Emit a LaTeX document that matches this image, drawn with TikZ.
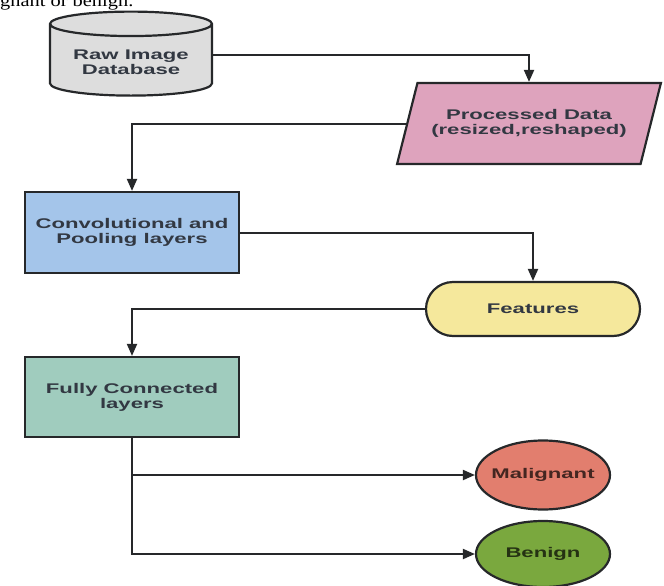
\documentclass[tikz,border=0pt]{standalone}
\usepackage{fontspec}
\setmainfont{Liberation Sans}[FakeStretch=1.58]
\newfontfamily\paperfont{Liberation Serif}[FakeStretch=1.2]
\usepackage{xcolor}
\usetikzlibrary{
    arrows.meta,
    shapes.geometric,
    positioning
}
\definecolor{rawgray}{RGB}{221,221,221}
\definecolor{procpink}{RGB}{222,163,189}
\definecolor{convblue}{RGB}{164,197,234}
\definecolor{featyellow}{RGB}{245,232,156}
\definecolor{fcteal}{RGB}{160,204,190}
\definecolor{malred}{RGB}{226,126,110}
\definecolor{bengreen}{RGB}{122,168,62}
\definecolor{linedark}{RGB}{38,40,42}
\definecolor{textdark}{RGB}{50,56,66}

\begin{document}
\begin{tikzpicture}[x=1pt, y=-1pt,
    box/.style={draw=linedark, line width=2.2pt, text=textdark, align=center,
        font=\bfseries\fontsize{14}{15}\selectfont},
    flow/.style={draw=linedark, line width=2pt, -{Triangle[length=12pt, width=10pt]}}]
                        \clip (0, 0) rectangle (664, 586);
                        \node[anchor=base west, inner sep=0pt, font=\paperfont\fontsize{17}{17}\selectfont] (ntop) at (0, 7) {gnant or benign.};

                        \node[box, fill=rawgray, cylinder, shape border rotate=90, aspect=0.2,
                            minimum width=162, minimum height=84] (nraw) at (131, 62) {Raw Image\\Database};
                        \node[box, fill=procpink, trapezium, trapezium left angle=62, trapezium right angle=118,
                            trapezium stretches=true, minimum width=264, minimum height=81] (nproc) at (529, 123.5) {Processed Data\\(resized,reshaped)};
                        \node[box, fill=convblue, minimum width=214, minimum height=81] (nconv) at (132, 232.5) {Convolutional and\\Pooling layers};
                        \node[box, fill=featyellow, rounded corners=27, minimum width=214, minimum height=54] (nfeat) at (533, 309) {Features};
                        \node[box, fill=fcteal, minimum width=214, minimum height=80] (nfc) at (132, 397) {Fully Connected\\layers};
                        \node[box, fill=malred, ellipse, text=malred!30!black, minimum width=134, minimum height=69] (nmal) at (543, 475) {\makebox[0pt]{Malignant}};
                        \node[box, fill=bengreen, ellipse, text=bengreen!30!black, minimum width=134, minimum height=66] (nben) at (543, 554) {\makebox[0pt]{Benign}};

                        \draw[flow] ([yshift=7pt]nraw.east) -| (nproc);
                        \draw[flow] (nproc) -| (nconv);
                        \draw[flow] (nconv) -| (nfeat);
                        \draw[flow] (nfeat) -| (nfc);
                        \draw[flow] (nfc) |- (nmal);
                        \draw[flow] (nfc) |- (nben);
                    \end{tikzpicture}
\end{document}
